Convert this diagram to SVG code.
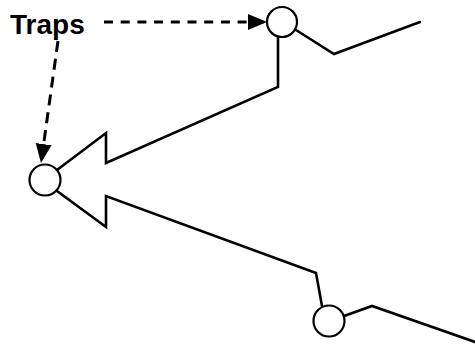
<svg xmlns="http://www.w3.org/2000/svg" width="475" height="346" viewBox="0 0 475 346">
<style>
.ln{fill:none;stroke:#000;stroke-width:2.6;stroke-linejoin:miter;stroke-linecap:round}
.trap{fill:#fff;stroke:#000;stroke-width:2.2}
.dash{fill:none;stroke:#000;stroke-width:3}
.lbl{font-family:"Liberation Sans",Arial,sans-serif;font-size:28px;font-weight:bold;fill:#000}
</style>
<defs>
<marker id="ah" markerUnits="userSpaceOnUse" markerWidth="20" markerHeight="17" refX="19" refY="8" orient="auto">
<path d="M0,0 L19,8 L0,16 Z" fill="#000"/>
</marker>
</defs>
<g id="connectors">
<polyline class="ln" points="278,37 278,87 106,163 106,133 57,170"/>
<polyline class="ln" points="57,191 106,227 106,196 316,273 322,306"/>
<polyline class="ln" points="296,30 334,54 420,22"/>
<polyline class="ln" points="344,316 372,306 475,342"/>
<line class="dash" x1="104" y1="22" x2="267" y2="22" stroke-dasharray="9,7.7" marker-end="url(#ah)"/>
<line class="dash" x1="58" y1="41" x2="41" y2="163" stroke-dasharray="11,7" marker-end="url(#ah)"/>
</g>
<g id="label-traps"><text class="lbl" x="10" y="34">Traps</text></g>
<g id="trap-top"><circle class="trap" cx="282" cy="22" r="15"/></g>
<g id="trap-left"><circle class="trap" cx="45" cy="180" r="15.5"/></g>
<g id="trap-bottom"><circle class="trap" cx="329" cy="321" r="15.5"/></g>
</svg>
